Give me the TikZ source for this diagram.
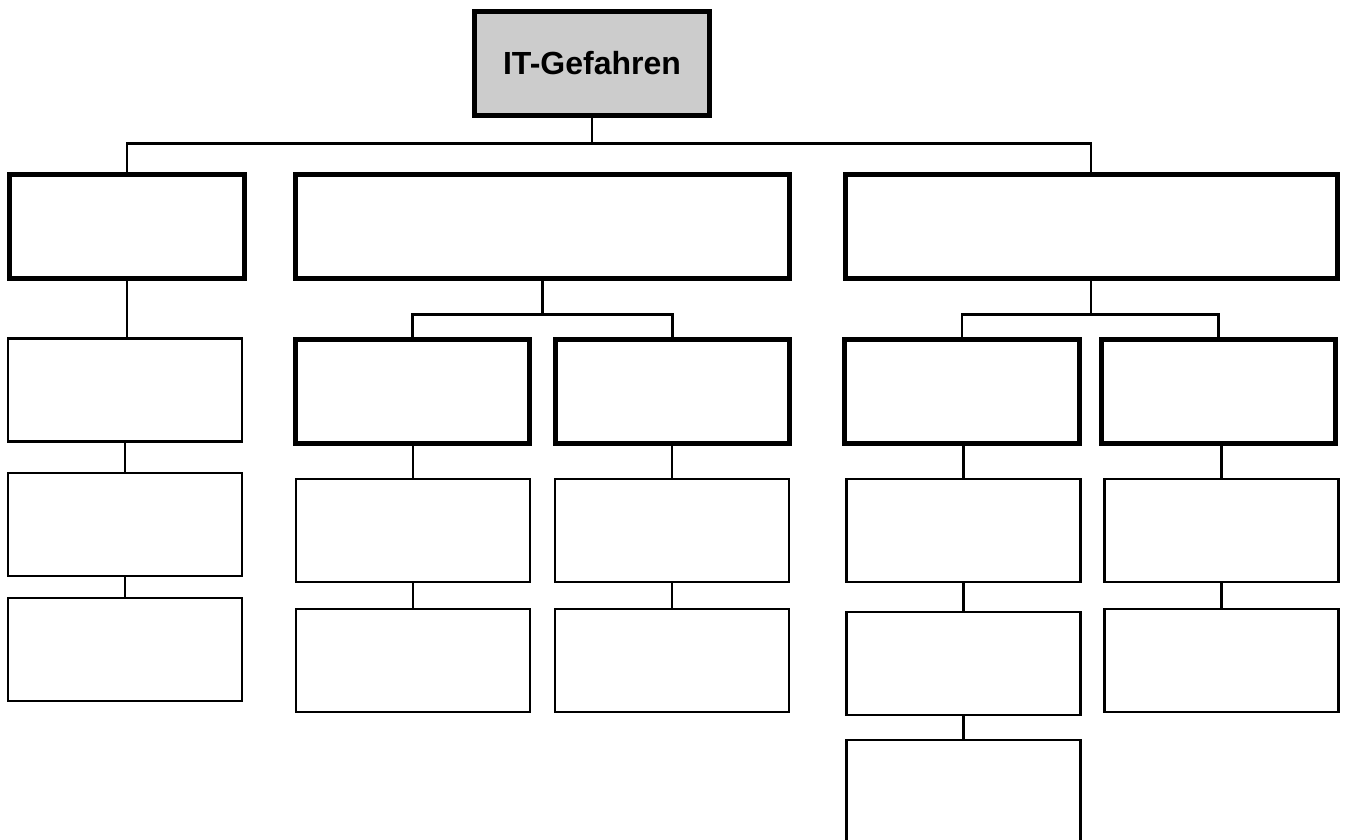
\documentclass[tikz,border=0pt]{standalone}
\usepackage{fontspec}
\setmainfont{Liberation Sans}
\usetikzlibrary{positioning}

\begin{document}
\begin{tikzpicture}[x=1pt,y=-1pt,
    thickbox/.style={draw,line width=5pt,minimum width=235pt,minimum height=104pt,inner sep=0pt},
    thinbox/.style={draw,line width=2.6pt,minimum width=234pt,minimum height=103pt,inner sep=0pt},
    link/.style={line width=2.4pt}]
    \useasboundingbox (0,0) rectangle (1348,839);

    \path (592, 63.5) node [thickbox,fill=gray!40,font=\bfseries\fontsize{32}{36}\selectfont] (it) {IT-Gefahren};
    \coordinate (j0) at (592, 143.5);

    \path (127, 226.5) node [thickbox] (a) {};
    \path (542.5, 226.5) node [thickbox,minimum width=494pt] (b) {};
    \path (1091, 226.5) node [thickbox,minimum width=492pt] (c) {};
    \draw [link] (it) -- (j0);
    \draw [link] (a.north) |- (j0) -| (c.north);

    % left column
    \path (125, 390) node [thinbox] (a1) {};
    \path (125, 524.5) node [thinbox] (a2) {};
    \path (125, 649.5) node [thinbox] (a3) {};
    \draw [link] (a.south) -- (a.south |- a1.north);
    \draw [link] (a1) -- (a2);
    \draw [link] (a2) -- (a3);

    % middle branch
    \coordinate (jb) at (542.5, 314.5);
    \path (412.5, 391.5) node [thickbox,minimum width=234pt] (b1) {};
    \path (672.5, 391.5) node [thickbox,minimum width=234pt] (b2) {};
    \draw [link] (b) -- (jb);
    \draw [link] (b1.north) |- (jb) -| (b2.north);
    \path (413, 530.5) node [thinbox] (b11) {};
    \path (413, 660.5) node [thinbox] (b12) {};
    \path (672, 530.5) node [thinbox] (b21) {};
    \path (672, 660.5) node [thinbox] (b22) {};
    \draw [link] (b11.north |- b1.south) -- (b11.north);
    \draw [link] (b11) -- (b12);
    \draw [link] (b21.north |- b2.south) -- (b21.north);
    \draw [link] (b21) -- (b22);

    % right branch
    \coordinate (jc) at (1091, 314.5);
    \path (962, 391.5) node [thickbox,minimum width=234.5pt] (c1) {};
    \path (1218.5, 391.5) node [thickbox,minimum width=234pt] (c2) {};
    \draw [link] (c) -- (jc);
    \draw [link] (c1.north) |- (jc) -| (c2.north);
    \path (963.5, 530.5) node [thinbox] (c11) {};
    \path (963.5, 663.5) node [thinbox] (c12) {};
    \path (963.5, 791.5) node [thinbox] (c13) {};
    \path (1221.5, 530.5) node [thinbox] (c21) {};
    \path (1221.5, 660.5) node [thinbox] (c22) {};
    \draw [link] (c11.north |- c1.south) -- (c11.north);
    \draw [link] (c11) -- (c12);
    \draw [link] (c12) -- (c13);
    \draw [link] (c21.north |- c2.south) -- (c21.north);
    \draw [link] (c21) -- (c22);
\end{tikzpicture}
\end{document}
